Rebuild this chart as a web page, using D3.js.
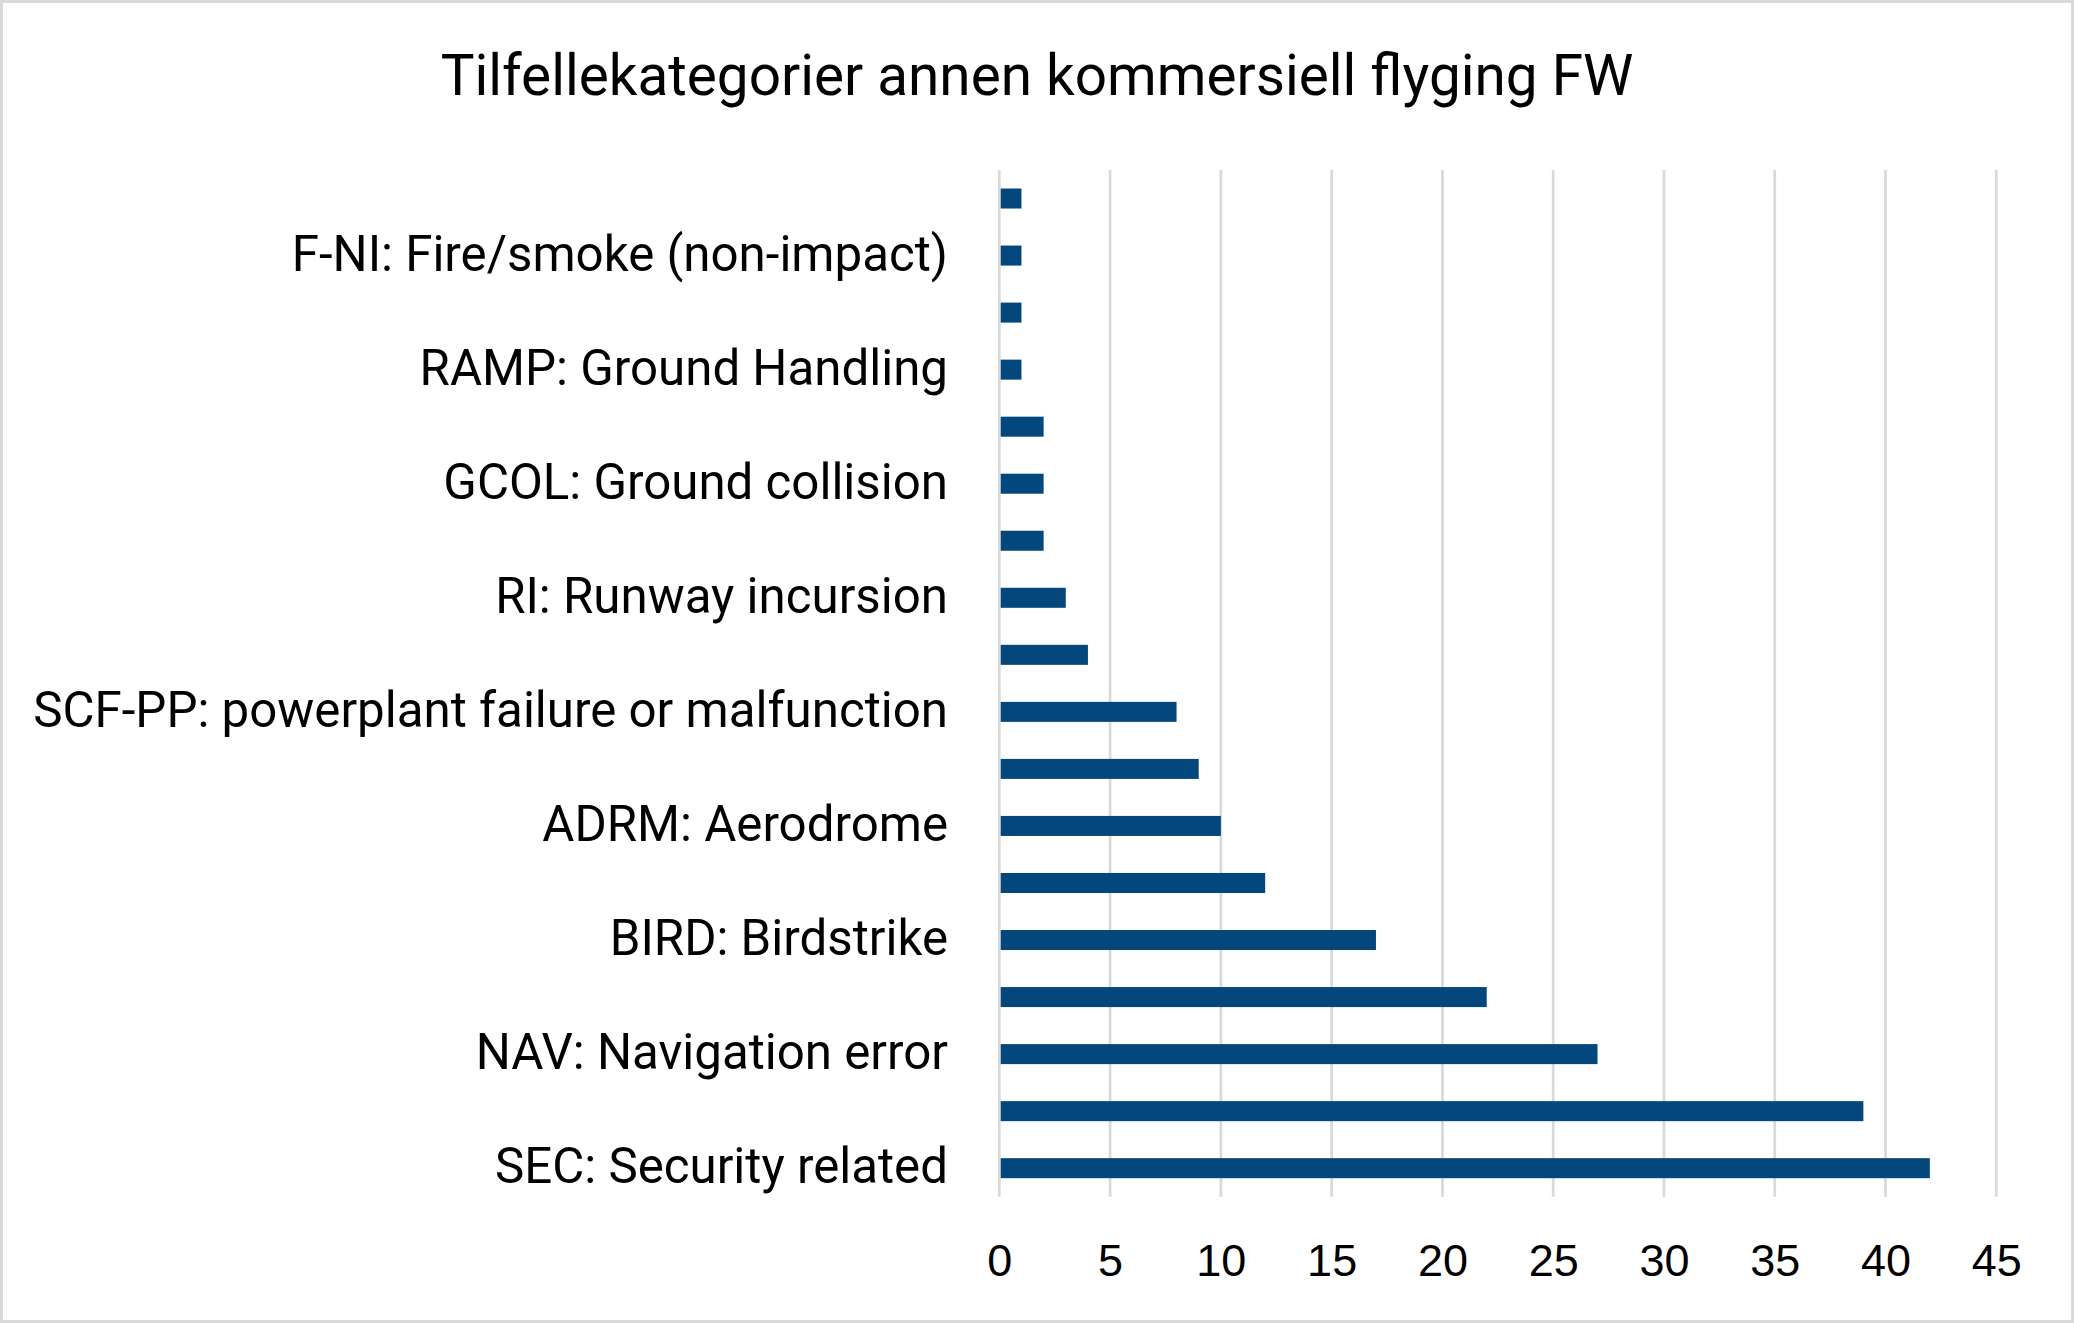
<!DOCTYPE html>
<html>
<head>
<meta charset="utf-8">
<script src="https://cdn.jsdelivr.net/npm/d3@7"></script>
<style>
  html, body { margin: 0; padding: 0; background: #fff; }
  svg { display: block; }
</style>
</head>
<body>
<svg id="chart" width="2074" height="1323"></svg>
<script>
// Data (Excel order: first category at the bottom)
const categories = [
  "SEC: Security related",
  "SCF-NP: System/component failure (non-powerplant)",
  "NAV: Navigation error",
  "MAC: Airprox/ACAS alert/loss of separation",
  "BIRD: Birdstrike",
  "OTHR: Other",
  "ADRM: Aerodrome",
  "ATM: ATM/CNS",
  "SCF-PP: powerplant failure or malfunction",
  "CABIN: Cabin safety events",
  "RI: Runway incursion",
  "WSTRW: Windshear or thunderstorm",
  "GCOL: Ground collision",
  "LOC-G: Loss of control - ground",
  "RAMP: Ground Handling",
  "MED: Medical",
  "F-NI: Fire/smoke (non-impact)",
  "TURB: Turbulence encounter"
];
const values = [42, 39, 27, 22, 17, 12, 10, 9, 8, 4, 3, 2, 2, 2, 1, 1, 1, 1];
const xTicks = [0, 5, 10, 15, 20, 25, 30, 35, 40, 45];
const title = "Tilfellekategorier annen kommersiell flyging FW";

const W = 2074, H = 1323;
const plot = { left: 999.3, right: 1996.3, top: 170, bottom: 1196.7 };
const svg = d3.select("#chart");

// outer border
svg.append("rect").attr("x", 1.5).attr("y", 1.5).attr("width", W - 3).attr("height", H - 3)
  .attr("fill", "#fff").attr("stroke", "#d9d9d9").attr("stroke-width", 3);

const x = d3.scaleLinear().domain([0, 45]).range([plot.left, plot.right]);
const y = d3.scaleBand().domain(categories)
  .range([plot.bottom, plot.top])
  .paddingInner(0.649).paddingOuter(0.3245);

// gridlines
svg.append("g").selectAll("line").data(xTicks).join("line")
  .attr("x1", d => x(d)).attr("x2", d => x(d))
  .attr("y1", plot.top).attr("y2", plot.bottom)
  .attr("stroke", "#d9d9d9").attr("stroke-width", 2.7);

// bars
svg.append("g").selectAll("rect").data(categories).join("rect")
  .attr("x", x(0) + 1.4)
  .attr("y", d => y(d))
  .attr("height", y.bandwidth())
  .attr("width", (d, i) => Math.max(0, x(values[i]) - x(0) - 1.4))
  .attr("fill", "#03477c");

// x axis tick labels
const xAxis = d3.axisBottom(x).tickValues(xTicks).tickSize(0).tickPadding(0);
const gx = svg.append("g").attr("transform", `translate(0,${plot.bottom})`).call(xAxis);
gx.select(".domain").remove();
gx.selectAll("text")
  .attr("y", 0).attr("dy", 0)
  .attr("transform", "translate(0,79)")
  .attr("font-family", "'Liberation Sans', Arial, sans-serif")
  .attr("font-size", 45).attr("fill", "#000");

// y axis labels (every other category, as Excel auto-skips)
const yAxis = d3.axisLeft(y).tickSize(0).tickPadding(0)
  .tickFormat((d, i) => i % 2 === 0 ? d : "");
const gy = svg.append("g").attr("transform", `translate(948,0)`).call(yAxis);
gy.select(".domain").remove();
gy.selectAll("text")
  .attr("x", 0).attr("dy", "0.31em")
  .attr("font-family", "Roboto, 'Noto Sans', sans-serif")
  .attr("font-size", 38).attr("fill", "#000");
// fit label font so the longest label spans its reference width
(function fitLabels() {
  let len = 0;
  gy.selectAll("text").each(function () {
    const l = this.getComputedTextLength();
    if (l > len) len = l;
  });
  if (len > 0) gy.selectAll("text").attr("font-size", 38 * 915 / len);
})();

// title
const t = svg.append("text").attr("x", 1037).attr("y", 95)
  .attr("text-anchor", "middle")
  .attr("font-family", "Roboto, 'Noto Sans', sans-serif")
  .attr("font-size", 56).attr("fill", "#000").text(title);
(function fitTitle() {
  const l = t.node().getComputedTextLength();
  if (l > 0) t.attr("font-size", 56 * 1193 / l);
})();
</script>
</body>
</html>
